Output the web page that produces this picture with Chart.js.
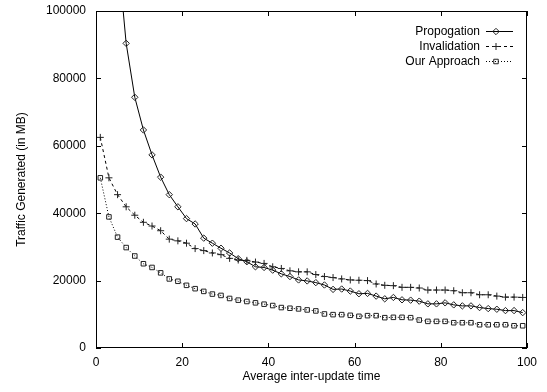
<!DOCTYPE html>
<html>
<head>
<meta charset="utf-8">
<script src="https://cdn.jsdelivr.net/npm/chart.js@4.4.1/dist/chart.umd.min.js"></script>
<style>
  html, body { margin: 0; padding: 0; background: #fff; }
  #wrap { width: 547px; height: 392px; }
</style>
</head>
<body>
<div id="wrap"><canvas id="myChart"></canvas></div>
<script>
// average inter-update time (x)
var updateTimes = [1, 3, 5, 7, 9, 11, 13, 15, 17, 19, 21, 23, 25, 27, 29, 31, 33, 35, 37, 39,
  41, 43, 45, 47, 49, 51, 53, 55, 57, 59, 61, 63, 65, 67, 69, 71, 73, 75, 77, 79,
  81, 83, 85, 87, 89, 91, 93, 95, 97, 99];

var propogation = [250000, 160000, 118000, 90400, 74400, 64700, 57300, 50700, 45500, 41900,
  38400, 36800, 32600, 31100, 29600, 28200, 26500, 25600, 24100, 23900,
  23100, 22000, 21200, 20200, 19900, 19400, 18700, 17400, 17500, 16900,
  16100, 16200, 15400, 14600, 15000, 14300, 14200, 13900, 13100, 13100,
  13400, 12800, 12500, 12500, 12000, 11700, 11500, 11100, 11100, 10500];

var invalidation = [62500, 50500, 45500, 41900, 39400, 37300, 36200, 34800, 32300, 31800,
  31100, 29500, 28900, 28200, 27700, 26600, 26100, 26000, 25500, 25100,
  24100, 23600, 22900, 22600, 22600, 21800, 21200, 20900, 20500, 20200,
  20100, 20000, 19000, 18600, 18500, 18000, 18000, 17800, 17200, 17200,
  17200, 17000, 16400, 16400, 15800, 15800, 15400, 15100, 15100, 15000];

var ourApproach = [50500, 38900, 32900, 29800, 27300, 25000, 23900, 22300, 20500, 19800,
  18600, 17600, 16800, 16000, 15600, 14700, 14200, 13800, 13400, 13000,
  12600, 12000, 11800, 11600, 11300, 11000, 10100, 9900, 9900, 9700,
  9400, 9600, 9600, 9000, 9100, 9100, 9000, 8300, 7900, 7900,
  7900, 7500, 7500, 7500, 6900, 6900, 6900, 6900, 6600, 6600];

var seriesNames = ['Propogation', 'Invalidation', 'Our Approach'];
var xTicks = [0, 20, 40, 60, 80, 100];
var yTicks = [0, 20000, 40000, 60000, 80000, 100000];

var FONT = "'Liberation Sans', Arial, Helvetica, sans-serif";

function toPoints(values) {
    return values.map(function (v, i) { return { x: updateTimes[i], y: v }; });
}

var styles = [
    { dash: [], point: 'rectRot', radius: 3.2 },
    { dash: [3, 3], point: 'cross', radius: 3.5 },
    { dash: [1, 2], point: 'rect', radius: 3.2 }
];

// gnuplot style frame with inward ticks on all four sides
var framePlugin = {
    id: 'frame',
    afterDatasetsDraw: function (chart) {
        var ctx = chart.ctx;
        var a = chart.chartArea;
        var xs = chart.scales.x, ys = chart.scales.y;
        ctx.save();
        ctx.strokeStyle = '#000';
        ctx.lineWidth = 1;
        ctx.setLineDash([]);
        ctx.strokeRect(a.left + 0.5, a.top + 0.5, a.right - a.left - 1, a.bottom - a.top - 1);
        ctx.beginPath();
        xTicks.forEach(function (t) {
            var px = Math.round(xs.getPixelForValue(t)) + 0.5;
            ctx.moveTo(px, a.bottom); ctx.lineTo(px, a.bottom - 5);
            ctx.moveTo(px, a.top); ctx.lineTo(px, a.top + 5);
        });
        yTicks.forEach(function (t) {
            var py = Math.round(ys.getPixelForValue(t)) + 0.5;
            ctx.moveTo(a.left, py); ctx.lineTo(a.left + 5, py);
            ctx.moveTo(a.right, py); ctx.lineTo(a.right - 5, py);
        });
        ctx.stroke();
        ctx.restore();
    }
};

// legend: text right aligned, then line sample with marker
var keyPlugin = {
    id: 'key',
    afterDraw: function (chart) {
        var ctx = chart.ctx;
        ctx.save();
        ctx.font = '12px ' + FONT;
        ctx.textAlign = 'right';
        ctx.textBaseline = 'middle';
        seriesNames.forEach(function (name, i) {
            var y = 31.5 + i * 15;
            ctx.fillStyle = '#000';
            ctx.fillText(name, 480, y);
            ctx.strokeStyle = '#000';
            ctx.lineWidth = 1;
            ctx.setLineDash(styles[i].dash);
            ctx.beginPath();
            ctx.moveTo(486, y); ctx.lineTo(513, y);
            ctx.stroke();
            ctx.setLineDash([]);
            ctx.fillStyle = 'rgba(0,0,0,0)';
            ctx.strokeStyle = '#222';
            Chart.helpers.drawPoint(ctx, {
                pointStyle: styles[i].point,
                radius: styles[i].radius,
                borderWidth: 1,
                rotation: 0
            }, 496, y);
        });
        ctx.restore();
    }
};

var datasets = [propogation, invalidation, ourApproach].map(function (vals, i) {
    return {
        label: seriesNames[i],
        data: toPoints(vals),
        borderColor: '#000',
        borderWidth: 1,
        borderDash: styles[i].dash,
        pointStyle: styles[i].point,
        pointRadius: styles[i].radius,
        pointBorderColor: '#222',
        pointBackgroundColor: 'rgba(0,0,0,0)',
        pointBorderWidth: 1,
        tension: 0
    };
});

new Chart(document.getElementById('myChart'), {
    type: 'line',
    data: { datasets: datasets },
    options: {
        responsive: true,
        maintainAspectRatio: false,
        animation: false,
        events: [],
        layout: { padding: { left: 0, right: 20, top: 11, bottom: 0 } },
        plugins: { legend: { display: false }, tooltip: { enabled: false } },
        scales: {
            x: {
                type: 'linear',
                min: 0, max: 100,
                afterBuildTicks: function (scale) {
                    scale.ticks = xTicks.map(function (v) { return { value: v }; });
                },
                afterFit: function (scale) {
                    scale.height = 44;
                    scale.paddingLeft = 0;
                    scale.paddingRight = 0;
                },
                grid: { display: false, drawTicks: false },
                border: { display: false },
                ticks: { color: '#000', padding: 7, maxRotation: 0, font: { family: FONT, size: 12 } },
                title: { display: true, text: 'Average inter-update time', color: '#000',
                    padding: { top: 0, bottom: 8 }, font: { family: FONT, size: 12 } }
            },
            y: {
                min: 0, max: 100000,
                afterBuildTicks: function (scale) {
                    scale.ticks = yTicks.map(function (v) { return { value: v }; });
                },
                afterFit: function (scale) {
                    scale.width = 96;
                    scale.paddingTop = 0;
                    scale.paddingBottom = 0;
                },
                grid: { display: false, drawTicks: false },
                border: { display: false },
                ticks: { color: '#000', padding: 10, font: { family: FONT, size: 12 },
                    callback: function (v) { return String(v); } },
                title: { display: true, text: 'Traffic Generated (in MB)', color: '#000',
                    padding: { top: 14, bottom: 0 }, font: { family: FONT, size: 12 } }
            }
        }
    },
    plugins: [framePlugin, keyPlugin]
});
</script>
</body>
</html>
